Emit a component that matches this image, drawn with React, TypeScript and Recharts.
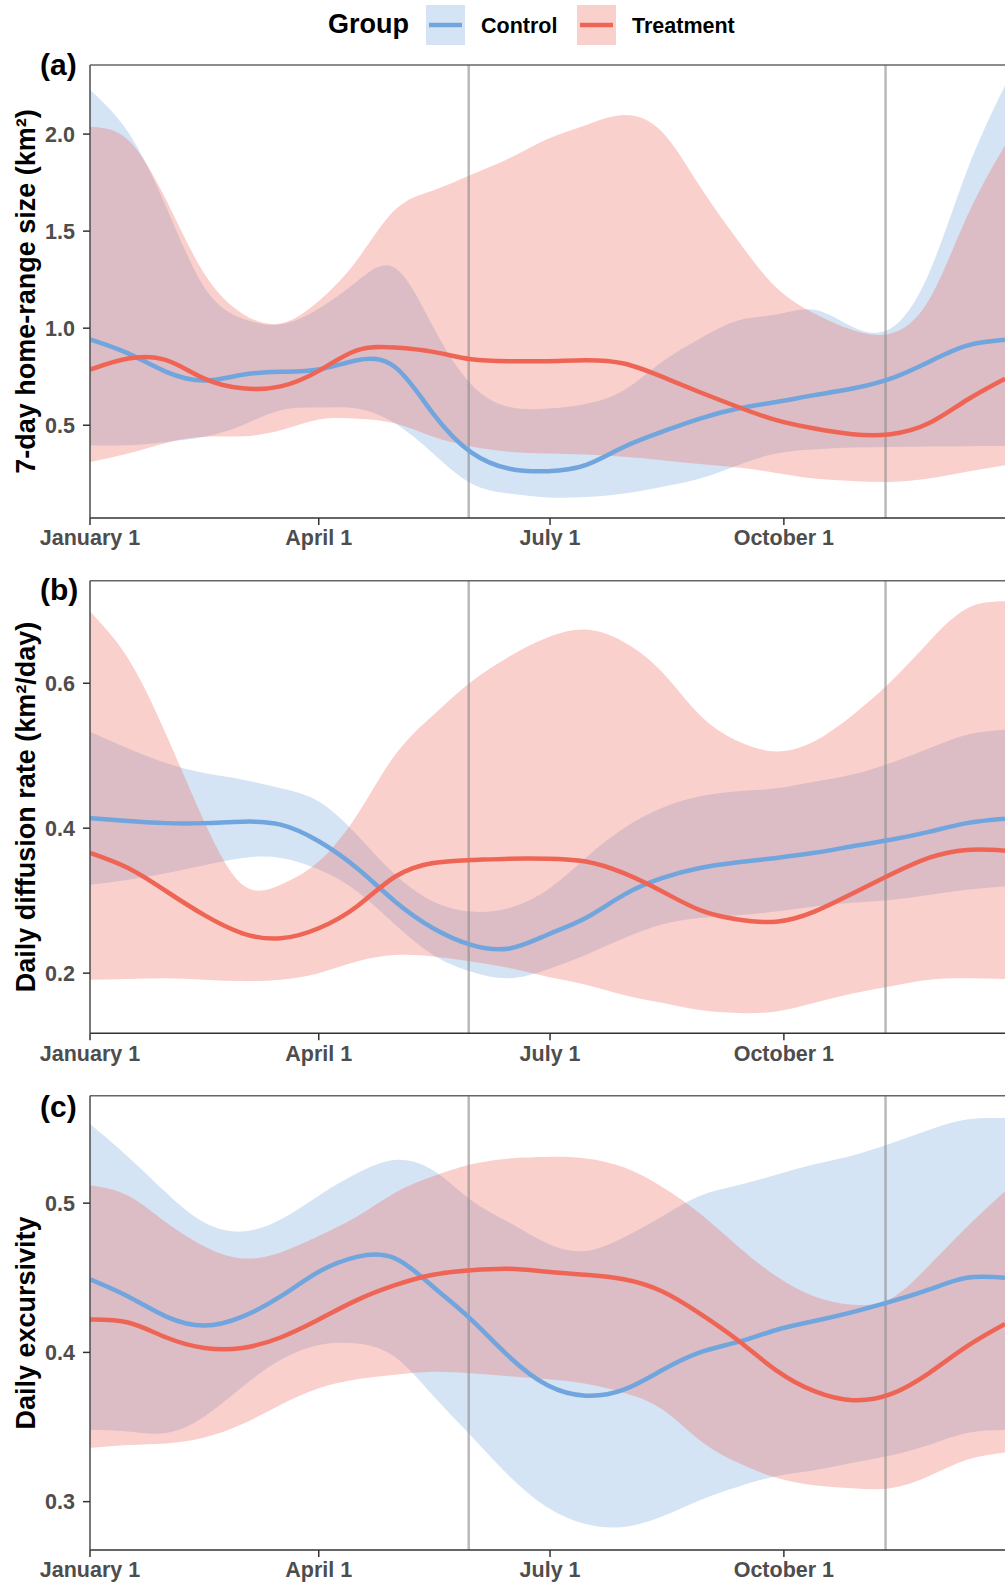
import React from 'react';
import { ComposedChart, Area, Line, XAxis, YAxis, ReferenceLine } from 'recharts';

const FONT = '"Liberation Sans", Arial, Helvetica, sans-serif';
const CONTROL_COLOR = '#71a5dd';
const TREAT_COLOR = '#ef6555';
const RIBBON_OPACITY = 0.3;
const CURVE = 'natural';

// Day of year (0 = January 1)
const DAYS = [0, 15, 30, 45, 60, 75, 90, 105, 120, 135, 150, 165, 180, 195, 210, 225, 240, 255, 270, 285, 300, 315, 330, 345, 360];
const X_TICKS = [0, 90, 181, 273];
const X_TICK_LABELS = ['January 1', 'April 1', 'July 1', 'October 1'];
const PERIOD_LINES = [149, 313];
const GROUP_LABELS = ['Control', 'Treatment'];

// (a) 7-day home-range size (km²)
const A_CONTROL_MEAN = [0.942, 0.87, 0.775, 0.73, 0.76, 0.775, 0.787, 0.835, 0.80, 0.56, 0.36, 0.276, 0.263, 0.294, 0.388, 0.466, 0.534, 0.586, 0.62, 0.655, 0.689, 0.74, 0.826, 0.91, 0.94];
const A_CONTROL_LO = [0.397, 0.397, 0.414, 0.44, 0.50, 0.577, 0.591, 0.586, 0.51, 0.354, 0.20, 0.148, 0.128, 0.13, 0.148, 0.182, 0.225, 0.294, 0.354, 0.375, 0.385, 0.388, 0.39, 0.392, 0.393];
const A_CONTROL_HI = [2.227, 2.01, 1.625, 1.21, 1.05, 1.02, 1.10, 1.24, 1.31, 1.007, 0.71, 0.594, 0.586, 0.61, 0.68, 0.826, 0.947, 1.04, 1.07, 1.095, 1.007, 0.998, 1.28, 1.81, 2.25];
const A_TREAT_MEAN = [0.787, 0.844, 0.835, 0.74, 0.69, 0.70, 0.78, 0.886, 0.90, 0.878, 0.84, 0.83, 0.83, 0.835, 0.818, 0.75, 0.67, 0.594, 0.526, 0.483, 0.454, 0.454, 0.51, 0.63, 0.74];
const A_TREAT_LO = [0.311, 0.354, 0.409, 0.44, 0.443, 0.474, 0.53, 0.534, 0.51, 0.44, 0.39, 0.363, 0.354, 0.349, 0.337, 0.32, 0.30, 0.282, 0.254, 0.225, 0.213, 0.208, 0.225, 0.26, 0.294];
const A_TREAT_HI = [2.038, 1.97, 1.66, 1.28, 1.075, 1.024, 1.14, 1.35, 1.61, 1.71, 1.79, 1.875, 1.975, 2.046, 2.098, 2.012, 1.73, 1.45, 1.21, 1.076, 0.99, 0.973, 1.144, 1.574, 1.943];
const A_Y_TICKS = [0.5, 1.0, 1.5, 2.0];

// (b) Daily diffusion rate (km²/day)
const B_CONTROL_MEAN = [0.414, 0.41, 0.407, 0.407, 0.409, 0.405, 0.382, 0.345, 0.299, 0.262, 0.239, 0.234, 0.253, 0.276, 0.308, 0.331, 0.345, 0.353, 0.359, 0.366, 0.375, 0.384, 0.395, 0.407, 0.413];
const B_CONTROL_LO = [0.322, 0.329, 0.338, 0.349, 0.359, 0.359, 0.343, 0.313, 0.267, 0.225, 0.202, 0.193, 0.205, 0.225, 0.248, 0.267, 0.276, 0.28, 0.285, 0.292, 0.297, 0.301, 0.308, 0.315, 0.32];
const B_CONTROL_HI = [0.533, 0.51, 0.49, 0.476, 0.467, 0.455, 0.437, 0.391, 0.336, 0.299, 0.285, 0.29, 0.315, 0.359, 0.40, 0.428, 0.444, 0.451, 0.455, 0.464, 0.474, 0.49, 0.51, 0.529, 0.536];
const B_TREAT_MEAN = [0.366, 0.345, 0.313, 0.28, 0.255, 0.248, 0.262, 0.292, 0.333, 0.352, 0.356, 0.358, 0.358, 0.354, 0.338, 0.313, 0.287, 0.274, 0.271, 0.285, 0.31, 0.336, 0.359, 0.37, 0.369];
const B_TREAT_LO = [0.191, 0.192, 0.193, 0.191, 0.189, 0.191, 0.20, 0.216, 0.225, 0.223, 0.216, 0.207, 0.195, 0.184, 0.17, 0.159, 0.149, 0.145, 0.147, 0.159, 0.172, 0.182, 0.191, 0.193, 0.192];
const B_TREAT_HI = [0.699, 0.634, 0.529, 0.409, 0.322, 0.322, 0.354, 0.418, 0.501, 0.556, 0.602, 0.637, 0.663, 0.674, 0.657, 0.616, 0.556, 0.52, 0.506, 0.52, 0.556, 0.602, 0.657, 0.703, 0.713];
const B_Y_TICKS = [0.2, 0.4, 0.6];

// (c) Daily excursivity
const C_CONTROL_MEAN = [0.449, 0.4375, 0.424, 0.418, 0.424, 0.4375, 0.454, 0.464, 0.463, 0.444, 0.422, 0.397, 0.378, 0.371, 0.375, 0.388, 0.40, 0.407, 0.415, 0.421, 0.427, 0.434, 0.442, 0.45, 0.45];
const C_CONTROL_LO = [0.348, 0.347, 0.346, 0.357, 0.377, 0.395, 0.405, 0.406, 0.397, 0.371, 0.344, 0.317, 0.296, 0.285, 0.283, 0.29, 0.301, 0.31, 0.317, 0.321, 0.326, 0.331, 0.338, 0.346, 0.348];
const C_CONTROL_HI = [0.553, 0.531, 0.507, 0.487, 0.481, 0.489, 0.505, 0.52, 0.529, 0.522, 0.502, 0.487, 0.473, 0.468, 0.477, 0.491, 0.505, 0.512, 0.519, 0.526, 0.532, 0.54, 0.549, 0.556, 0.557];
const C_TREAT_MEAN = [0.422, 0.42, 0.41, 0.403, 0.403, 0.41, 0.422, 0.435, 0.445, 0.452, 0.455, 0.456, 0.454, 0.452, 0.449, 0.441, 0.426, 0.408, 0.388, 0.374, 0.368, 0.372, 0.386, 0.404, 0.419];
const C_TREAT_LO = [0.336, 0.338, 0.339, 0.343, 0.352, 0.365, 0.376, 0.382, 0.385, 0.387, 0.386, 0.384, 0.382, 0.379, 0.373, 0.362, 0.341, 0.326, 0.316, 0.311, 0.309, 0.309, 0.317, 0.328, 0.333];
const C_TREAT_HI = [0.512, 0.505, 0.487, 0.471, 0.463, 0.467, 0.478, 0.491, 0.507, 0.518, 0.526, 0.53, 0.531, 0.53, 0.524, 0.511, 0.493, 0.471, 0.451, 0.4375, 0.432, 0.436, 0.458, 0.484, 0.508];
const C_Y_TICKS = [0.3, 0.4, 0.5];

function buildRows(cm: number[], clo: number[], chi: number[], tm: number[], tlo: number[], thi: number[]) {
  return DAYS.map((d, i) => ({
    day: d,
    cMean: cm[i],
    cBand: [clo[i], chi[i]],
    tMean: tm[i],
    tBand: [tlo[i], thi[i]],
  }));
}

const ROWS_A = buildRows(A_CONTROL_MEAN, A_CONTROL_LO, A_CONTROL_HI, A_TREAT_MEAN, A_TREAT_LO, A_TREAT_HI);
const ROWS_B = buildRows(B_CONTROL_MEAN, B_CONTROL_LO, B_CONTROL_HI, B_TREAT_MEAN, B_TREAT_LO, B_TREAT_HI);
const ROWS_C = buildRows(C_CONTROL_MEAN, C_CONTROL_LO, C_CONTROL_HI, C_TREAT_MEAN, C_TREAT_LO, C_TREAT_HI);

const xLabel = (v: number) => {
  const i = X_TICKS.indexOf(v);
  return i >= 0 ? X_TICK_LABELS[i] : '';
};

type PanelProps = {
  top: number;
  height: number;
  marginTop: number;
  xAxisHeight: number;
  domain: [number, number];
  ticks: number[];
  rows: any[];
};

function Panel({ top, height, marginTop, xAxisHeight, domain, ticks, rows }: PanelProps) {
  const tickStyle = { fill: '#4d4d4d', fontSize: 21.5, fontWeight: 700, fontFamily: FONT };
  return (
    <div style={{ position: 'absolute', left: 0, top, width: 1005, height }}>
      <ComposedChart width={1005} height={height} data={rows} margin={{ top: marginTop, right: 0, bottom: 0, left: 0 }}>
        <XAxis
          type="number"
          dataKey="day"
          domain={[0, 360]}
          allowDataOverflow
          ticks={X_TICKS}
          interval={0}
          tickFormatter={xLabel}
          height={xAxisHeight}
          tickSize={7}
          tickMargin={5}
          axisLine={{ stroke: '#333333', strokeWidth: 1.5 }}
          tickLine={{ stroke: '#333333', strokeWidth: 1.5 }}
          tick={tickStyle}
        />
        <YAxis
          type="number"
          domain={domain}
          allowDataOverflow
          ticks={ticks}
          interval={0}
          width={90}
          tickSize={7}
          tickMargin={8}
          tickFormatter={(v: number) => v.toFixed(1)}
          axisLine={{ stroke: '#4d4d4d', strokeWidth: 1.5 }}
          tickLine={{ stroke: '#333333', strokeWidth: 1.5 }}
          tick={tickStyle}
        />
        <Area dataKey="cBand" type={CURVE} fill={CONTROL_COLOR} fillOpacity={RIBBON_OPACITY} stroke="none" isAnimationActive={false} activeDot={false} />
        <Area dataKey="tBand" type={CURVE} fill={TREAT_COLOR} fillOpacity={RIBBON_OPACITY} stroke="none" isAnimationActive={false} activeDot={false} />
        {PERIOD_LINES.map((d) => (
          <ReferenceLine key={d} x={d} stroke="#8a8a8a" strokeOpacity={0.6} strokeWidth={2.5} />
        ))}
        <ReferenceLine y={domain[1]} stroke="#666666" strokeWidth={1.5} />
        <Line dataKey="cMean" type={CURVE} stroke={CONTROL_COLOR} strokeWidth={4.5} dot={false} activeDot={false} isAnimationActive={false} />
        <Line dataKey="tMean" type={CURVE} stroke={TREAT_COLOR} strokeWidth={4.5} dot={false} activeDot={false} isAnimationActive={false} />
      </ComposedChart>
    </div>
  );
}

function Overlay() {
  const titleStyle = { fontFamily: FONT, fontWeight: 700, fontSize: 27, fill: '#000' } as any;
  const panelLabelStyle = { fontFamily: FONT, fontWeight: 700, fontSize: 30, fill: '#000' } as any;
  return (
    <svg width={1005} height={1584} style={{ position: 'absolute', left: 0, top: 0, pointerEvents: 'none' }}>
      {/* legend */}
      <text x={328} y={33} style={{ fontFamily: FONT, fontWeight: 700, fontSize: 27 } as any} fill="#000">Group</text>
      <rect x={426} y={5} width={39} height={40} fill={CONTROL_COLOR} fillOpacity={RIBBON_OPACITY} />
      <line x1={429} x2={462} y1={25} y2={25} stroke={CONTROL_COLOR} strokeWidth={4.5} />
      <text x={481} y={33} style={{ fontFamily: FONT, fontWeight: 700, fontSize: 21.5 } as any} fill="#000">{GROUP_LABELS[0]}</text>
      <rect x={577} y={5} width={39} height={40} fill={TREAT_COLOR} fillOpacity={RIBBON_OPACITY} />
      <line x1={580} x2={613} y1={25} y2={25} stroke={TREAT_COLOR} strokeWidth={4.5} />
      <text x={632} y={33} style={{ fontFamily: FONT, fontWeight: 700, fontSize: 21.5 } as any} fill="#000">{GROUP_LABELS[1]}</text>

      {/* panel tags */}
      <text x={40} y={75} style={panelLabelStyle}>(a)</text>
      <text x={40} y={600} style={panelLabelStyle}>(b)</text>
      <text x={40} y={1117} style={panelLabelStyle}>(c)</text>

      {/* y axis titles */}
      <text transform="translate(35,291.5) rotate(-90)" textAnchor="middle" style={titleStyle}>7-day home-range size (km²)</text>
      <text transform="translate(35,807) rotate(-90)" textAnchor="middle" style={titleStyle}>Daily diffusion rate (km²/day)</text>
      <text transform="translate(35,1323) rotate(-90)" textAnchor="middle" style={titleStyle}>Daily excursivity</text>
    </svg>
  );
}

export default function App() {
  return (
    <div style={{ position: 'absolute', left: 0, top: 0, width: 1005, height: 1584, background: '#ffffff', overflow: 'hidden' }}>
      <Panel top={0} height={560} marginTop={65} xAxisHeight={42} domain={[0.022, 2.356]} ticks={A_Y_TICKS} rows={ROWS_A} />
      <Panel top={560} height={520} marginTop={20.7} xAxisHeight={46.7} domain={[0.117, 0.7415]} ticks={B_Y_TICKS} rows={ROWS_B} />
      <Panel top={1080} height={504} marginTop={15.7} xAxisHeight={34} domain={[0.2676, 0.572]} ticks={C_Y_TICKS} rows={ROWS_C} />
      <Overlay />
    </div>
  );
}
